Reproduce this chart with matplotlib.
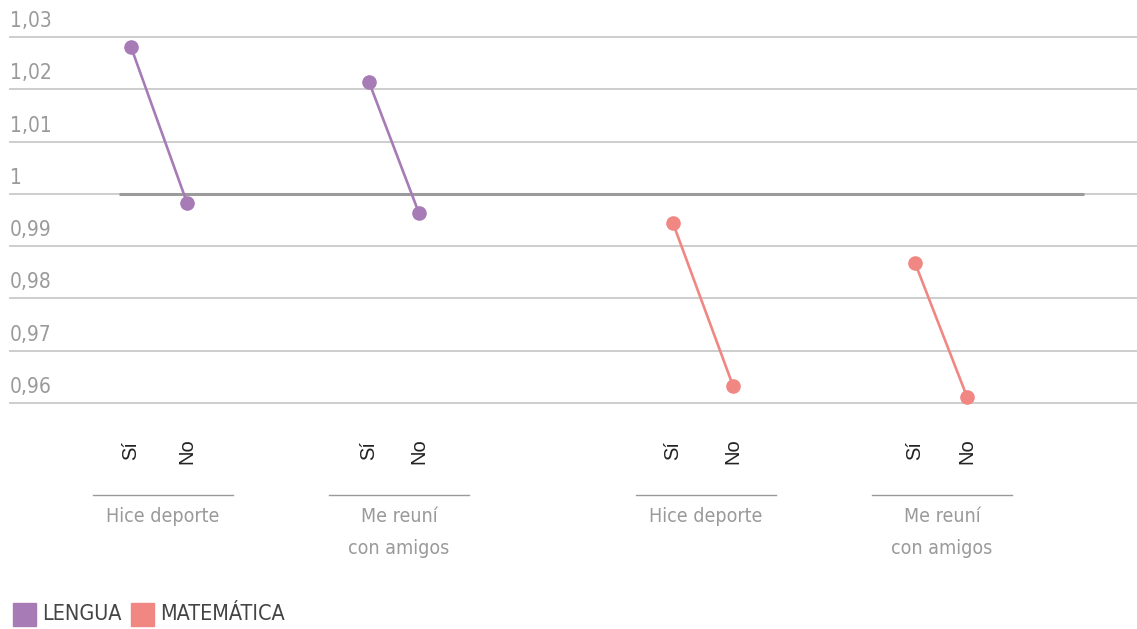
import matplotlib
matplotlib.use("Agg")
import matplotlib.pyplot as plt
from matplotlib import font_manager
from matplotlib.font_manager import FontProperties
from matplotlib.patches import Rectangle

# ── Data ──────────────────────────────────────────────────────────────────────
subjects = ["LENGUA", "MATEMÁTICA"]
groups = ["Hice deporte", "Me reuní\ncon amigos", "Hice deporte", "Me reuní\ncon amigos"]
group_subject = [0, 0, 1, 1]
answers = ["Sí", "No"]
si_values = [1.0281, 1.0214, 0.9944, 0.9868]
no_values = [0.9983, 0.9963, 0.9633, 0.9612]
yticks = [0.96, 0.97, 0.98, 0.99, 1.00, 1.01, 1.02, 1.03]
ytick_labels = ["0,96", "0,97", "0,98", "0,99", "1", "1,01", "1,02", "1,03"]
reference = 1.0

# ── Style ─────────────────────────────────────────────────────────────────────
COLORS = ["#a77bb6", "#f08783"]
GRID = "#c9c9c9"
REF = "#9b9b9b"
MUTED = "#9a9a9a"


def _condensed_font():
    """Look for any installed narrow/condensed regular face."""
    best = None
    for f in font_manager.fontManager.ttflist:
        name = f.name.lower()
        narrow = ("narrow" in name or "condensed" in name
                  or f.stretch in ("condensed", "semi-condensed", "extra-condensed"))
        if not narrow or f.style != "normal":
            continue
        w = f.weight if isinstance(f.weight, int) else 400
        if w != 400:
            continue
        if best is None or "liberation" in name:
            best = f.fname
    return best


COND_FILE = _condensed_font()


def cond(size):
    if COND_FILE:
        return FontProperties(fname=COND_FILE, size=size)
    return FontProperties(family="DejaVu Sans", size=size * 0.85)


W, H = 1137, 629
pair_x = [159, 394, 703, 941]      # pixel centres of each Sí/No pair
half_gap = [28, 25, 30, 26]
label_x = [163, 399, 706, 942]     # pixel centres of group underline + label

fig = plt.figure(figsize=(W / 100, H / 100), dpi=100, facecolor="white")
ax = fig.add_axes([0, (H - 410) / H, 1, 410 / H])
ax.set_xlim(0, W)
px_per_unit = (403 - 37) / 0.07
ax.set_ylim(0.96 - 7 / px_per_unit, 1.03 + 37 / px_per_unit)
ax.axis("off")

for v, lab in zip(yticks, ytick_labels):
    ax.axhline(v, xmin=10 / W, xmax=1, color=GRID, lw=1.3, zorder=1)
    ax.text(10, v + 6 / px_per_unit, lab, ha="left", va="bottom",
            color=MUTED, fontproperties=cond(15))

ax.plot([119, 1084], [reference, reference], color=REF, lw=2.2, zorder=2,
        solid_capstyle="butt")

for gx, hg, s, si, no in zip(pair_x, half_gap, group_subject, si_values, no_values):
    ax.plot([gx - hg, gx + hg], [si, no], color=COLORS[s], lw=1.9,
            marker="o", markersize=9.5, zorder=3)

# ── X labels ──────────────────────────────────────────────────────────────────
def fy(py):
    return (H - py) / H

for gx, hg, lx, g in zip(pair_x, half_gap, label_x, groups):
    for off, a in zip((-hg, hg), answers):
        fig.text((gx + off) / W, fy(451), a, rotation=90, ha="center", va="center",
                 fontsize=14.5, color="#222222", family=["Liberation Sans", "DejaVu Sans"])
    fig.add_artist(plt.Line2D([(lx - 70) / W, (lx + 70) / W], [fy(495), fy(495)],
                              color=MUTED, lw=1.0))
    fig.text(lx / W, fy(507), g, ha="center", va="top", color=MUTED,
             fontproperties=cond(14), linespacing=1.85)

# ── Legend ────────────────────────────────────────────────────────────────────
leg_x = [13, 131]
for lx, name, c in zip(leg_x, subjects, COLORS):
    fig.add_artist(Rectangle((lx / W, fy(626)), 23 / W, 23 / H, color=c,
                             transform=fig.transFigure))
    fig.text((lx + 29) / W, fy(614), name, ha="left", va="center",
             color="#444444", fontproperties=cond(15.5))

fig.savefig("out.png", dpi=100, facecolor="white")
